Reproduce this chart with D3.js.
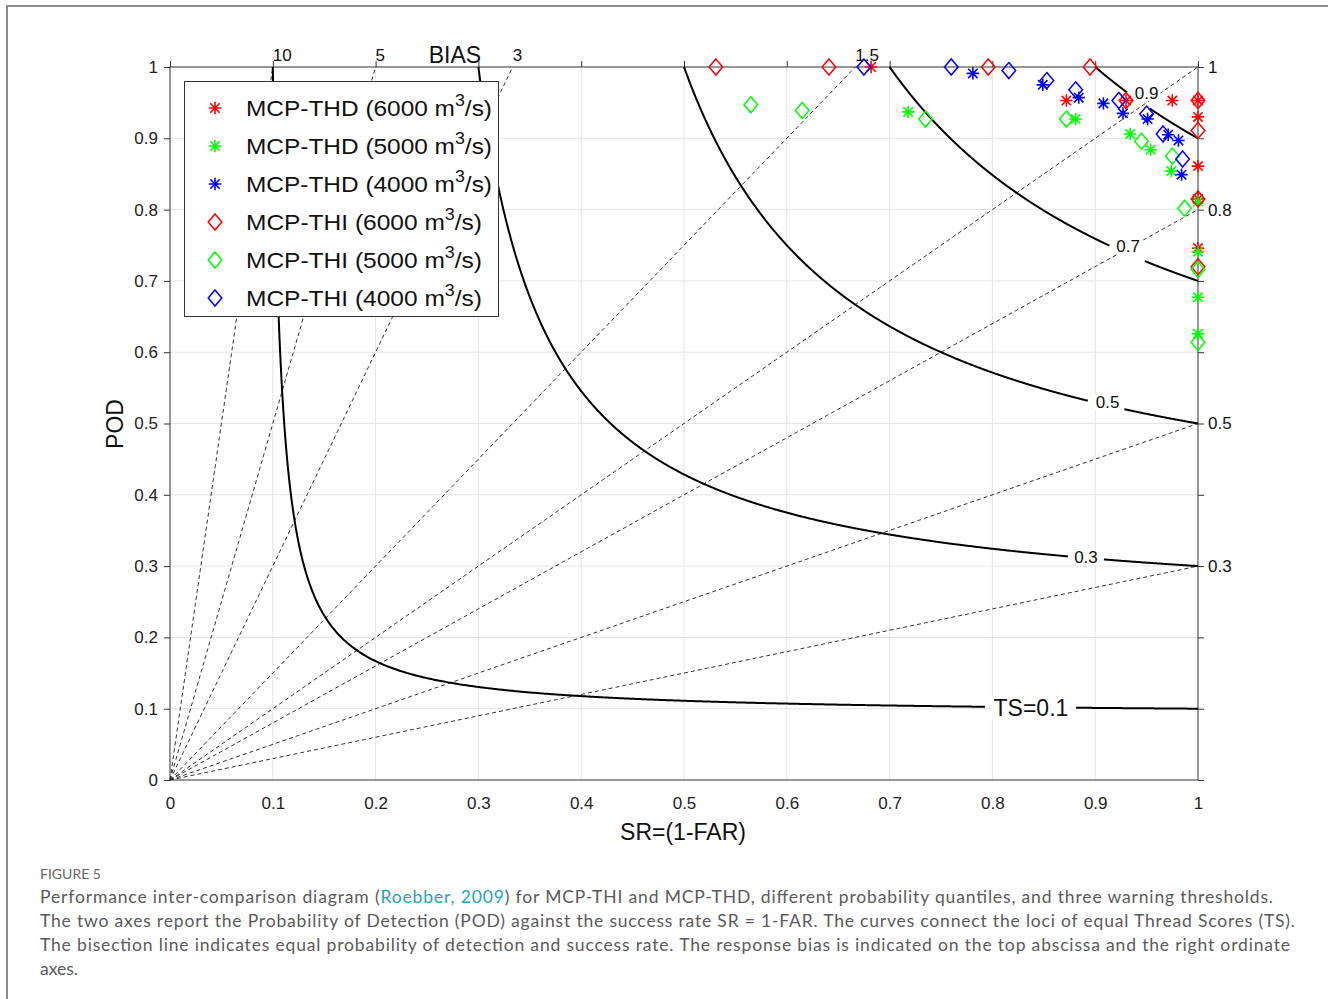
<!DOCTYPE html>
<html>
<head>
<meta charset="utf-8">
<script src="https://cdn.jsdelivr.net/npm/d3@7"></script>
<style>
  html, body { margin: 0; padding: 0; background: #fff; }
  svg { display: block; }
</style>
</head>
<body>
<svg id="chart" width="1328" height="999"></svg>
<script>
// ---------------- data ----------------
const axisTicks = [0, 0.1, 0.2, 0.3, 0.4, 0.5, 0.6, 0.7, 0.8, 0.9, 1];

const biasValues = [0.3, 0.5, 0.8, 1, 1.5, 3, 5, 10];
const biasTopLabels = ["10", "5", "3", "1.5"];
const biasTopValues = [10, 5, 3, 1.5];
const biasRightLabels = ["1", "0.8", "0.5", "0.3"];
const biasRightValues = [1, 0.8, 0.5, 0.3];

const tsValues = [0.1, 0.3, 0.5, 0.7, 0.9];
const tsLabels = ["TS=0.1", "0.3", "0.5", "0.7", "0.9"];
const tsLabelSR = [0.8375, 0.891, 0.912, 0.932, 0.950];
const tsLabelPOD = [0.1005, 0.312, 0.530, 0.749, 0.9635];
const tsGapStart = [0.793, 0.874, 0.893, 0.914, 0.931];
const tsGapEnd = [0.880, 0.908, 0.928, 0.948, 0.953];

const thd6000_sr  = [0.682, 0.872, 0.930, 0.975, 1, 1, 1, 1, 1];
const thd6000_pod = [1, 0.953, 0.953, 0.953, 0.953, 0.930, 0.861, 0.815, 0.746];
const thd5000_sr  = [0.718, 0.881, 0.934, 0.954, 0.974, 1, 1, 1, 1];
const thd5000_pod = [0.937, 0.927, 0.906, 0.884, 0.854, 0.811, 0.741, 0.677, 0.626];
const thd4000_sr  = [0.781, 0.849, 0.884, 0.908, 0.927, 0.951, 0.971, 0.981, 0.984];
const thd4000_pod = [0.991, 0.975, 0.957, 0.949, 0.935, 0.927, 0.905, 0.897, 0.849];
const thi6000_sr  = [0.531, 0.641, 0.796, 0.895, 0.930, 1, 1, 1, 1];
const thi6000_pod = [1, 1, 1, 1, 0.953, 0.953, 0.911, 0.815, 0.720];
const thi5000_sr  = [0.565, 0.615, 0.735, 0.872, 0.945, 0.975, 0.987, 1, 1];
const thi5000_pod = [0.947, 0.939, 0.927, 0.927, 0.896, 0.875, 0.802, 0.716, 0.614];
const thi4000_sr  = [0.675, 0.760, 0.816, 0.853, 0.881, 0.923, 0.950, 0.966, 0.985];
const thi4000_pod = [1, 1, 0.995, 0.981, 0.968, 0.953, 0.934, 0.906, 0.871];

const seriesNames = ["MCP-THD (6000 ", "MCP-THD (5000 ", "MCP-THD (4000 ",
                     "MCP-THI (6000 ", "MCP-THI (5000 ", "MCP-THI (4000 "];
const seriesColors = ["#ff0000", "#00ff00", "#0000ff", "#ff0000", "#00ff00", "#0000ff"];
const seriesMarkers = ["star", "star", "star", "diamond", "diamond", "diamond"];
const seriesSR = [thd6000_sr, thd5000_sr, thd4000_sr, thi6000_sr, thi5000_sr, thi4000_sr];
const seriesPOD = [thd6000_pod, thd5000_pod, thd4000_pod, thi6000_pod, thi5000_pod, thi4000_pod];

const captionTitle = "FIGURE 5";
const captionLines = [
  ["Performance inter-comparison diagram (", "Roebber, 2009", ") for MCP-THI and MCP-THD, different probability quantiles, and three warning thresholds."],
  ["The two axes report the Probability of Detection (POD) against the success rate SR = 1-FAR. The curves connect the loci of equal Thread Scores (TS)."],
  ["The bisection line indicates equal probability of detection and success rate. The response bias is indicated on the top abscissa and the right ordinate"],
  ["axes."]
];
const captionWidths = [1233, 1255, 1250, null];

// ---------------- drawing ----------------
const svg = d3.select("#chart");
const FONT = "'Liberation Sans', Arial, Helvetica, sans-serif";
const x = d3.scaleLinear().domain([0, 1]).range([170, 1198]);
const y = d3.scaleLinear().domain([0, 1]).range([780, 67]);
const fmt = d => String(+d.toFixed(1));

// outer frame
svg.append("path").attr("d", "M7,999 V6 H1328").attr("fill", "none")
  .attr("stroke", "#8c8c8c").attr("stroke-width", 2);

// grid
const grid = svg.append("g").attr("stroke", "#e4e4e4").attr("stroke-width", 1);
axisTicks.filter(t => t > 0 && t < 1).forEach(t => {
  grid.append("line").attr("x1", x(t)).attr("x2", x(t)).attr("y1", y(0)).attr("y2", y(1));
  grid.append("line").attr("y1", y(t)).attr("y2", y(t)).attr("x1", x(0)).attr("x2", x(1));
});

// axes
function styleAxis(g) {
  g.selectAll("path.domain").remove();
  g.selectAll("line").attr("stroke", "#333");
  g.selectAll("text").attr("font-family", FONT).attr("font-size", 17).attr("fill", "#222");
}
svg.append("g").attr("transform", `translate(${x(0)},0)`)
  .call(d3.axisLeft(y).tickValues(axisTicks).tickSize(6).tickSizeOuter(0).tickPadding(6).tickFormat(fmt))
  .call(styleAxis);
svg.append("g").attr("transform", `translate(0,${y(0)})`)
  .call(d3.axisBottom(x).tickValues(axisTicks).tickSize(0).tickSizeOuter(0).tickPadding(17).tickFormat(fmt))
  .call(styleAxis);
svg.append("g").attr("transform", `translate(0,${y(1)})`)
  .call(d3.axisTop(x).tickValues(axisTicks).tickSize(6).tickSizeOuter(0).tickFormat(""))
  .call(styleAxis);
svg.append("g").attr("transform", `translate(${x(1)},0)`)
  .call(d3.axisRight(y).tickValues(axisTicks).tickSize(6).tickSizeOuter(0).tickFormat(""))
  .call(styleAxis);

// box
svg.append("rect").attr("x", x(0)).attr("y", y(1)).attr("width", x(1) - x(0)).attr("height", y(0) - y(1))
  .attr("fill", "none").attr("stroke", "#333").attr("stroke-width", 1);

// bias lines
const biasG = svg.append("g");
biasValues.forEach(b => {
  const end = b >= 1 ? [1 / b, 1] : [1, b];
  biasG.append("line")
    .attr("x1", x(0)).attr("y1", y(0)).attr("x2", x(end[0])).attr("y2", y(end[1]))
    .attr("stroke", "#333").attr("stroke-width", 1).attr("stroke-dasharray", "4,3");
});

// TS curves
const line = d3.line().defined(d => d.ok).x(d => x(d.sr)).y(d => y(d.pod));
tsValues.forEach((ts, i) => {
  const pts = [];
  const N = 600;
  const mid = 2 * ts / (1 + ts); // SR = POD at symmetric point
  for (let k = 0; k <= N; k++) {
    const pod = 1 - (1 - mid) * k / N;
    const sr = 1 / (1 / ts + 1 - 1 / pod);
    pts.push({ sr, pod });
  }
  for (let k = 1; k <= N; k++) {
    const sr = mid + (1 - mid) * k / N;
    const pod = 1 / (1 / ts + 1 - 1 / sr);
    pts.push({ sr, pod });
  }
  pts.forEach(p => { p.ok = !(p.sr > tsGapStart[i] && p.sr < tsGapEnd[i]); });
  svg.append("path").attr("d", line(pts)).attr("fill", "none")
    .attr("stroke", "#000").attr("stroke-width", 2);
});

// TS labels (white background like contour labels)
tsValues.forEach((ts, i) => {
  const fs = i === 0 ? 23 : 17;
  const t = svg.append("text")
    .attr("x", x(tsLabelSR[i])).attr("y", y(tsLabelPOD[i]))
    .attr("text-anchor", "middle").attr("dy", "0.35em")
    .attr("font-family", FONT).attr("font-size", fs).attr("fill", "#111")
    .text(tsLabels[i]);
  const bb = t.node().getBBox();
  svg.insert("rect", () => t.node())
    .attr("x", bb.x - 2).attr("y", bb.y + 2).attr("width", bb.width + 4).attr("height", bb.height - 4)
    .attr("fill", "#fff");
});

// bias labels
biasTopValues.forEach((b, i) => {
  svg.append("text").attr("x", x(1 / b)).attr("y", 61)
    .attr("font-family", FONT).attr("font-size", 17).attr("fill", "#111")
    .text(biasTopLabels[i]);
});
svg.append("text").attr("x", 455).attr("y", 63).attr("text-anchor", "middle")
  .attr("font-family", FONT).attr("font-size", 23).attr("fill", "#111").text("BIAS");
biasRightValues.forEach((b, i) => {
  svg.append("text").attr("x", x(1) + 10).attr("y", y(b)).attr("dy", "0.35em")
    .attr("font-family", FONT).attr("font-size", 17).attr("fill", "#111")
    .text(biasRightLabels[i]);
});

// markers
function drawMarker(g, type, cx, cy, color) {
  if (type === "star") {
    const r = 6.2, rd = 4.7;
    const p = `M${cx - r},${cy}H${cx + r}M${cx},${cy - r}V${cy + r}` +
      `M${cx - rd},${cy - rd}L${cx + rd},${cy + rd}M${cx - rd},${cy + rd}L${cx + rd},${cy - rd}`;
    g.append("path").attr("d", p).attr("stroke", color).attr("stroke-width", 1.6).attr("fill", "none");
  } else {
    const w = 6.8, h = 8;
    g.append("path").attr("d", `M${cx},${cy - h}L${cx + w},${cy}L${cx},${cy + h}L${cx - w},${cy}Z`)
      .attr("stroke", color).attr("stroke-width", 1.5).attr("fill", "none");
  }
}
const markG = svg.append("g");
seriesSR.forEach((srs, s) => {
  srs.forEach((sr, k) => {
    drawMarker(markG, seriesMarkers[s], x(sr), y(seriesPOD[s][k]), seriesColors[s]);
  });
});

// legend
const leg = svg.append("g");
leg.append("rect").attr("x", 184.5).attr("y", 81.5).attr("width", 314).attr("height", 235)
  .attr("fill", "#fff").attr("stroke", "#333").attr("stroke-width", 1);
seriesNames.forEach((name, i) => {
  const base = 116 + i * 38;
  drawMarker(leg, seriesMarkers[i], 215, base - 8, seriesColors[i]);
  const t = leg.append("text").attr("x", 246).attr("y", base)
    .attr("font-family", FONT).attr("font-size", 22).attr("fill", "#111")
    .attr("textLength", i < 3 ? 246 : 236).attr("lengthAdjust", "spacingAndGlyphs");
  t.append("tspan").text(name + "m");
  t.append("tspan").attr("dy", -10).attr("font-size", 16).text("3");
  t.append("tspan").attr("dy", 10).text("/s)");
});

// axis titles
svg.append("text").attr("x", 683).attr("y", 840).attr("text-anchor", "middle")
  .attr("font-family", FONT).attr("font-size", 23).attr("fill", "#111").text("SR=(1-FAR)");
svg.append("text").attr("transform", "translate(123,424) rotate(-90)").attr("text-anchor", "middle")
  .attr("font-family", FONT).attr("font-size", 23).attr("fill", "#111").text("POD");

// caption
const CAPFONT = "Lato, 'Open Sans', 'Noto Sans', sans-serif";
svg.append("text").attr("x", 40).attr("y", 879)
  .attr("font-family", CAPFONT).attr("font-size", 13).attr("fill", "#666")
  .attr("textLength", 61).attr("lengthAdjust", "spacingAndGlyphs").text(captionTitle);
captionLines.forEach((parts, i) => {
  const t = svg.append("text").attr("x", 40).attr("y", 903 + i * 24)
    .attr("font-family", CAPFONT).attr("font-size", 17.5).attr("fill", "#5a5a5a");
  if (captionWidths[i]) t.attr("textLength", captionWidths[i]).attr("lengthAdjust", "spacing");
  parts.forEach((p, j) => {
    t.append("tspan").attr("fill", parts.length > 1 && j === 1 ? "#1fa3bd" : "#5a5a5a").text(p);
  });
});
</script>
</body>
</html>
